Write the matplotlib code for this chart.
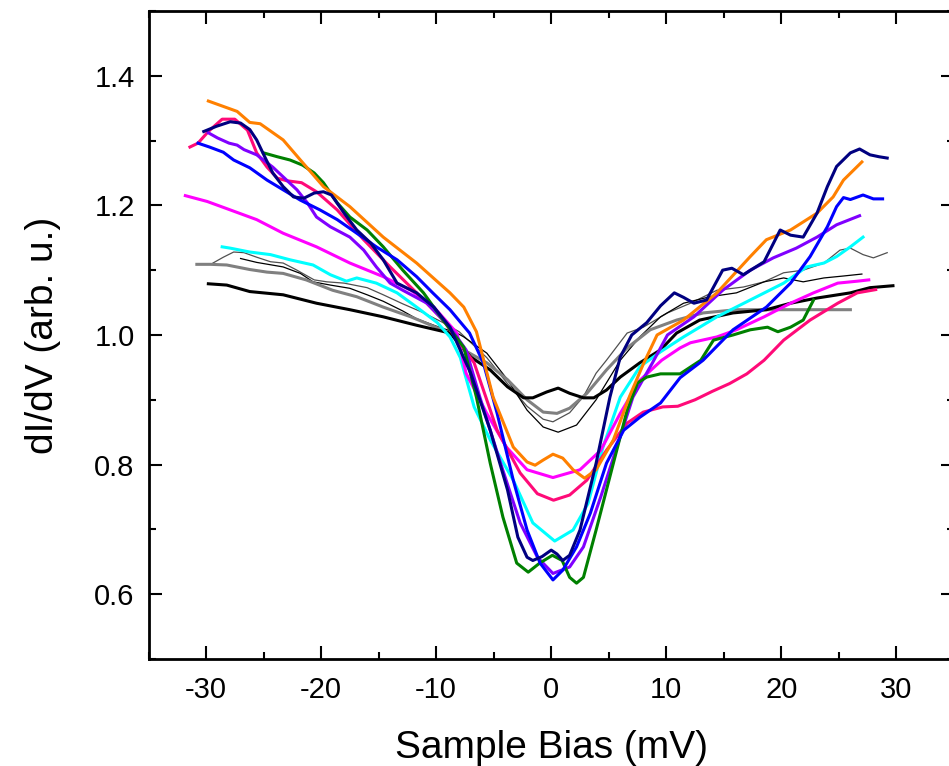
import numpy as np
import matplotlib
matplotlib.use("Agg")
import matplotlib.pyplot as plt
from matplotlib.ticker import MultipleLocator

plt.rcParams['font.family'] = ['Liberation Sans', 'DejaVu Sans']
plt.rcParams['axes.unicode_minus'] = False

# curves: bias (mV) and dI/dV (arb. u.)
orange_x = [-29.8, -27.3, -26.2, -25.3, -23.3, -21.8, -19.8, -17.5, -14.6, -11.7, -8.8, -7.6, -6.5, -5.05,
            -3.3, -2.1, -1.4, -0.7, 0.15, 1.0, 1.9, 2.9, 3.9, 5.4, 6.8, 8.0, 9.2, 11.5, 14.4, 17.3, 18.7,
            20.8, 23.1, 24.5, 25.4, 27.0]
orange_y = [1.361, 1.345, 1.328, 1.326, 1.301, 1.270, 1.229, 1.198, 1.151, 1.111, 1.065, 1.043, 1.005, 0.904,
            0.827, 0.804, 0.799, 0.807, 0.816, 0.810, 0.792, 0.779, 0.792, 0.838, 0.905, 0.955, 1.000, 1.023,
            1.065, 1.121, 1.147, 1.162, 1.188, 1.213, 1.239, 1.267]

navy_x = [-30.2, -29.1, -27.9, -27.0, -26.2, -25.6, -24.9, -24.2, -23.3, -22.4, -21.5, -20.6, -19.8, -19.1,
          -18.0, -16.9, -15.7, -14.6, -13.4, -11.7, -10.2, -8.8, -7.0, -5.3, -3.8, -2.9, -2.1, -1.6, -0.8,
          0.0, 0.5, 1.0, 1.6, 2.5, 3.9, 5.1, 6.0, 7.0, 8.3, 9.5, 10.7, 11.5, 12.4, 13.5, 14.9, 15.7, 16.7,
          18.5, 19.9, 20.8, 21.9, 23.1, 24.0, 24.8, 26.0, 26.8, 27.7, 28.5, 29.2]
navy_y = [1.314, 1.322, 1.329, 1.327, 1.317, 1.301, 1.275, 1.250, 1.229, 1.213, 1.211, 1.219, 1.221, 1.216,
          1.188, 1.162, 1.142, 1.116, 1.080, 1.065, 1.043, 1.012, 0.941, 0.853, 0.761, 0.688, 0.657, 0.652,
          0.658, 0.668, 0.662, 0.652, 0.660, 0.699, 0.802, 0.904, 0.966, 1.000, 1.019, 1.045, 1.065, 1.058,
          1.049, 1.054, 1.100, 1.103, 1.093, 1.113, 1.162, 1.154, 1.151, 1.188, 1.229, 1.260, 1.281, 1.287,
          1.278, 1.275, 1.273]

pink_x = [-31.4, -30.7, -29.8, -28.6, -27.5, -26.4, -25.6, -24.7, -23.8, -23.0, -21.7, -20.4, -18.6, -16.3,
          -14.0, -11.7, -9.4, -6.7, -4.7, -2.7, -1.2, 0.2, 1.6, 3.1, 4.8, 6.6, 8.0, 9.7, 11.0, 12.5, 14.0,
          15.5, 17.0, 18.5, 20.2, 22.5, 24.9, 26.6, 28.2]
pink_y = [1.290, 1.296, 1.314, 1.333, 1.333, 1.316, 1.281, 1.259, 1.242, 1.238, 1.235, 1.221, 1.193, 1.147,
          1.105, 1.065, 1.023, 0.957, 0.853, 0.787, 0.755, 0.745, 0.753, 0.776, 0.822, 0.864, 0.881, 0.889,
          0.890, 0.900, 0.913, 0.925, 0.940, 0.961, 0.992, 1.023, 1.049, 1.065, 1.070]

green_x = [-25.0, -23.8, -22.7, -21.6, -20.6, -19.8, -18.6, -17.5, -16.0, -14.6, -12.9, -11.1, -9.4, -7.6,
           -6.5, -5.3, -4.2, -3.0, -2.0, -1.0, 0.1, 0.95, 1.6, 2.2, 2.8, 3.9, 5.4, 6.6, 7.5, 8.3, 9.5, 11.2,
           13.0, 14.1, 15.8, 17.3, 18.8, 19.7, 20.8, 21.9, 22.8]
green_y = [1.281, 1.275, 1.270, 1.262, 1.250, 1.235, 1.204, 1.182, 1.162, 1.136, 1.100, 1.065, 1.023, 0.981,
           0.904, 0.802, 0.719, 0.648, 0.634, 0.648, 0.660, 0.652, 0.626, 0.617, 0.626, 0.699, 0.802, 0.884,
           0.926, 0.935, 0.940, 0.940, 0.961, 0.992, 1.000, 1.008, 1.012, 1.005, 1.012, 1.023, 1.054]

blue_x = [-30.7, -29.7, -28.5, -27.6, -26.2, -24.7, -23.3, -21.8, -20.1, -18.6, -16.9, -15.2, -13.4, -11.7,
          -10.3, -8.8, -7.1, -5.9, -4.7, -3.3, -2.1, -0.97, 0.15, 1.0, 2.2, 3.4, 4.8, 6.3, 7.7, 9.5, 11.2,
          13.2, 15.8, 18.7, 20.8, 22.5, 24.0, 24.8, 25.4, 26.0, 27.1, 28.0, 28.8]
blue_y = [1.296, 1.290, 1.282, 1.270, 1.258, 1.239, 1.224, 1.208, 1.193, 1.178, 1.157, 1.136, 1.116, 1.090,
          1.065, 1.039, 1.003, 0.957, 0.879, 0.776, 0.699, 0.648, 0.622, 0.637, 0.673, 0.725, 0.802, 0.853,
          0.873, 0.895, 0.934, 0.961, 1.008, 1.043, 1.080, 1.121, 1.167, 1.198, 1.212, 1.209, 1.216, 1.210,
          1.210]

purple_x = [-29.8, -29.0, -28.0, -27.3, -26.7, -25.6, -24.2, -23.3, -22.1, -21.2, -20.4, -19.2, -17.5, -16.3,
            -15.2, -14.0, -12.9, -10.8, -8.8, -7.4, -6.2, -4.4, -2.7, -1.2, 0.15, 1.6, 2.8, 4.3, 5.7, 7.1,
            8.8, 10.1, 12.4, 14.9, 17.3, 19.3, 21.3, 23.1, 24.8, 26.8]
purple_y = [1.312, 1.304, 1.296, 1.293, 1.286, 1.278, 1.259, 1.244, 1.224, 1.204, 1.182, 1.167, 1.151, 1.131,
            1.105, 1.080, 1.069, 1.049, 1.012, 0.977, 0.904, 0.802, 0.710, 0.657, 0.632, 0.642, 0.673, 0.750,
            0.827, 0.904, 0.957, 1.000, 1.028, 1.069, 1.100, 1.119, 1.134, 1.151, 1.170, 1.184]

magenta_x = [-31.8, -29.9, -27.9, -25.6, -23.3, -20.4, -17.5, -14.6, -12.2, -10.2, -8.2, -7.4, -5.6, -3.9,
             -2.1, 0.15, 2.5, 4.3, 6.0, 7.7, 9.6, 11.2, 12.1, 14.4, 16.1, 18.5, 20.8, 22.8, 24.9, 26.6, 27.6]
magenta_y = [1.215, 1.206, 1.193, 1.178, 1.157, 1.136, 1.111, 1.090, 1.069, 1.043, 1.003, 0.941, 0.879, 0.827,
             0.792, 0.780, 0.792, 0.822, 0.879, 0.930, 0.961, 0.980, 0.988, 0.997, 1.008, 1.028, 1.049, 1.065,
             1.080, 1.083, 1.085]

cyan_x = [-28.6, -27.9, -26.2, -24.4, -22.7, -20.7, -19.2, -17.8, -16.9, -15.2, -13.4, -11.7, -9.9, -8.8,
          -7.9, -6.7, -5.3, -3.3, -1.6, 0.3, 1.9, 3.2, 4.5, 6.0, 7.7, 9.5, 11.5, 14.4, 17.3, 20.2, 22.2,
          23.7, 24.8, 26.0, 27.1]
cyan_y = [1.136, 1.134, 1.128, 1.124, 1.116, 1.108, 1.093, 1.083, 1.088, 1.080, 1.065, 1.043, 1.019, 0.997,
          0.965, 0.889, 0.838, 0.776, 0.710, 0.682, 0.699, 0.740, 0.827, 0.904, 0.951, 0.974, 0.997, 1.028,
          1.054, 1.080, 1.105, 1.111, 1.121, 1.136, 1.151]

black_x = [-29.8, -28.2, -26.2, -23.3, -20.4, -17.5, -14.6, -11.7, -8.8, -7.0, -5.3, -3.8, -2.4, -1.6, -0.4,
           0.6, 1.6, 2.8, 3.7, 4.8, 6.0, 7.7, 9.5, 10.9, 12.9, 15.8, 18.7, 20.8, 23.1, 26.0, 27.7, 29.7]
black_y = [1.079, 1.077, 1.067, 1.062, 1.049, 1.039, 1.028, 1.015, 1.003, 0.966, 0.946, 0.920, 0.903, 0.903,
           0.912, 0.918, 0.910, 0.903, 0.903, 0.915, 0.935, 0.957, 0.977, 1.003, 1.023, 1.034, 1.039, 1.049,
           1.057, 1.065, 1.073, 1.076]

gray_x = [-30.8, -29.6, -28.2, -26.2, -24.7, -23.3, -21.3, -19.0, -16.9, -14.6, -12.2, -9.9, -8.2, -7.6, -5.6,
          -3.8, -2.1, -0.7, 0.5, 1.6, 3.1, 4.8, 6.6, 8.6, 10.9, 13.2, 16.1, 20.2, 26.0]
gray_y = [1.109, 1.109, 1.108, 1.101, 1.097, 1.095, 1.085, 1.069, 1.059, 1.043, 1.028, 1.011, 0.997, 0.977,
          0.957, 0.931, 0.900, 0.881, 0.879, 0.887, 0.910, 0.946, 0.980, 1.008, 1.023, 1.034, 1.039, 1.039,
          1.039]

thin_black_x = [-27.0, -25.6, -23.3, -21.8, -20.7, -19.2, -17.5, -16.0, -14.6, -12.9, -11.7, -9.9, -8.2, -7.6,
                -5.6, -3.8, -2.1, -0.7, 0.6, 2.2, 3.9, 6.0, 7.7, 9.5, 11.5, 13.8, 16.1, 18.5, 20.2, 21.9,
                23.7, 25.4, 27.0]
thin_black_y = [1.118, 1.112, 1.105, 1.095, 1.082, 1.077, 1.072, 1.062, 1.052, 1.037, 1.025, 1.013, 1.003,
                0.997, 0.972, 0.931, 0.884, 0.858, 0.850, 0.861, 0.900, 0.961, 0.997, 1.028, 1.049, 1.059,
                1.065, 1.082, 1.088, 1.082, 1.088, 1.091, 1.094]

thin_gray_x = [-29.4, -28.5, -27.6, -26.7, -25.6, -24.4, -23.3, -22.1, -20.6, -19.5, -18.0, -16.0, -14.6,
               -12.9, -11.2, -9.5, -8.0, -5.6, -3.8, -2.1, -0.7, 0.15, 1.6, 2.8, 3.9, 4.8, 6.6, 8.0, 10.1,
               12.1, 14.4, 16.7, 18.5, 20.2, 21.9, 23.7, 25.1, 26.0, 27.1, 28.0, 29.2]
thin_gray_y = [1.111, 1.120, 1.128, 1.127, 1.120, 1.113, 1.111, 1.100, 1.085, 1.082, 1.080, 1.073, 1.062,
               1.048, 1.035, 1.020, 1.005, 0.965, 0.925, 0.890, 0.870, 0.866, 0.880, 0.905, 0.941, 0.961,
               1.003, 1.012, 1.034, 1.049, 1.069, 1.074, 1.082, 1.096, 1.100, 1.111, 1.131, 1.134, 1.124,
               1.119, 1.127]

fig = plt.figure(figsize=(9.49, 7.66), dpi=100)
ax = fig.add_axes([0.1565, 0.1397, 0.8487, 0.846])

ax.plot(thin_gray_x, thin_gray_y, color='#505050', lw=0.9)
ax.plot(thin_black_x, thin_black_y, color='black', lw=0.9)
ax.plot(gray_x, gray_y, color='#808080', lw=2.2)
ax.plot(black_x, black_y, color='black', lw=2.2)
ax.plot(cyan_x, cyan_y, color='#00FFFF', lw=2.2)
ax.plot(magenta_x, magenta_y, color='#FF00FF', lw=2.2)
ax.plot(pink_x, pink_y, color='#FF0A78', lw=2.2)
ax.plot(purple_x, purple_y, color='#8000FF', lw=2.2)
ax.plot(green_x, green_y, color='#008000', lw=2.2)
ax.plot(blue_x, blue_y, color='#0000FF', lw=2.2)
ax.plot(orange_x, orange_y, color='#FF8000', lw=2.2)
ax.plot(navy_x, navy_y, color='#000080', lw=2.2)

ax.set_xlim(-35, 35)
ax.set_ylim(0.5, 1.5)
ax.xaxis.set_major_locator(MultipleLocator(10))
ax.xaxis.set_minor_locator(MultipleLocator(5))
ax.yaxis.set_major_locator(MultipleLocator(0.2))
ax.yaxis.set_minor_locator(MultipleLocator(0.1))
ax.set_yticks([0.6, 0.8, 1.0, 1.2, 1.4])
ax.set_yticklabels(['0.6', '0.8', '1.0', '1.2', '1.4'])

ax.tick_params(which='both', direction='in', top=True, right=True, width=1.5, labelsize=21)
ax.tick_params(which='major', length=9.5)
ax.tick_params(which='minor', length=5)
ax.tick_params(axis='x', pad=12)
ax.tick_params(axis='y', pad=10)
for sp in ax.spines.values():
    sp.set_linewidth(2)

ax.set_xlabel('Sample Bias (mV)', fontsize=28, labelpad=19)
ax.set_ylabel('dI/dV (arb. u.)', fontsize=28, labelpad=24)

fig.savefig('out.png', dpi=100)
